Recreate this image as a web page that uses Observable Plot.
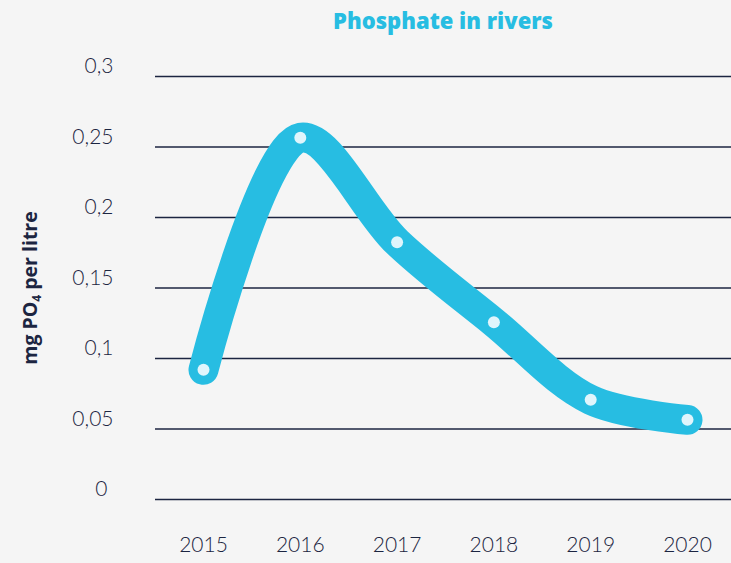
<!DOCTYPE html>
<html>
<head>
<meta charset="utf-8">
<script src="https://cdn.jsdelivr.net/npm/d3@7"></script>
<script src="https://cdn.jsdelivr.net/npm/@observablehq/plot@0.6"></script>
<style>
  html, body { margin: 0; padding: 0; background: #f5f5f5; }
  #wrap { position: relative; width: 731px; height: 563px; background: #f5f5f5; overflow: hidden; }
  #title { position: absolute; left: 155px; width: 576px; top: 7px; text-align: center;
    font-family: "Open Sans", Lato, sans-serif; font-weight: 800; font-size: 22px; color: #27bde2; line-height: 26px; }
  #chart { position: absolute; left: 0; top: 40px; }
  #ylabel { position: absolute; left: 30px; top: 288px; transform: translate(-50%, -50%) rotate(-90deg);
    white-space: nowrap; font-family: "Open Sans", Lato, sans-serif; font-weight: 700; font-size: 19.5px; color: #1c2541; line-height: 22px; }
  #ylabel sub { font-size: 12px; vertical-align: -4px; line-height: 0; }
</style>
</head>
<body>
<div id="wrap">
  <div id="title">Phosphate in rivers</div>
  <div id="ylabel">mg PO<sub>4</sub> per litre</div>
  <div id="chart"></div>
</div>
<script>
const years = [2015, 2016, 2017, 2018, 2019, 2020];
const phosphate = [0.092, 0.2565, 0.1825, 0.1257, 0.0707, 0.0565];
const yTicks = [0, 0.05, 0.1, 0.15, 0.2, 0.25, 0.3];
const yTickLabels = ["0", "0,05", "0,1", "0,15", "0,2", "0,25", "0,3"];

const data = years.map((year, i) => ({year, value: phosphate[i]}));
const yTickData = yTicks.map((v, i) => ({v, label: yTickLabels[i]}));

const textColor = "#1c2541";
const font = "Lato, 'Open Sans', sans-serif";

const plot = Plot.plot({
  width: 731,
  height: 523,
  marginTop: 36,
  marginBottom: 64,
  marginLeft: 155,
  marginRight: 0,
  insetLeft: 48,
  insetRight: 44,
  style: {background: "transparent", fontFamily: font, overflow: "visible"},
  x: {domain: [2015, 2020], axis: null},
  y: {domain: [0, 0.3], axis: null},
  marks: [
    Plot.ruleY(yTicks, {stroke: textColor, strokeWidth: 1.5}),
    Plot.text(yTickData.filter(d => d.v !== 0), {y: "v", text: "label", frameAnchor: "left", textAnchor: "end", dx: -42, dy: -10, fontSize: 21, fontWeight: 300, fill: textColor}),
    Plot.text(yTickData.filter(d => d.v === 0), {y: "v", text: "label", frameAnchor: "left", textAnchor: "end", dx: -48, dy: -10, fontSize: 21, fontWeight: 300, fill: textColor}),
    Plot.text(years, {x: d => d, text: d => String(d), frameAnchor: "bottom", dy: 52, fontSize: 21, fontWeight: 300, fill: textColor}),
    Plot.line(data, {x: "year", y: "value", stroke: "#27bde2", strokeWidth: 30, curve: "catmull-rom", strokeLinecap: "round", strokeLinejoin: "round"}),
    Plot.dot(data, {x: "year", y: "value", r: 6, fill: "#e0f5fc", stroke: null})
  ]
});
document.getElementById("chart").appendChild(plot);
</script>
</body>
</html>
